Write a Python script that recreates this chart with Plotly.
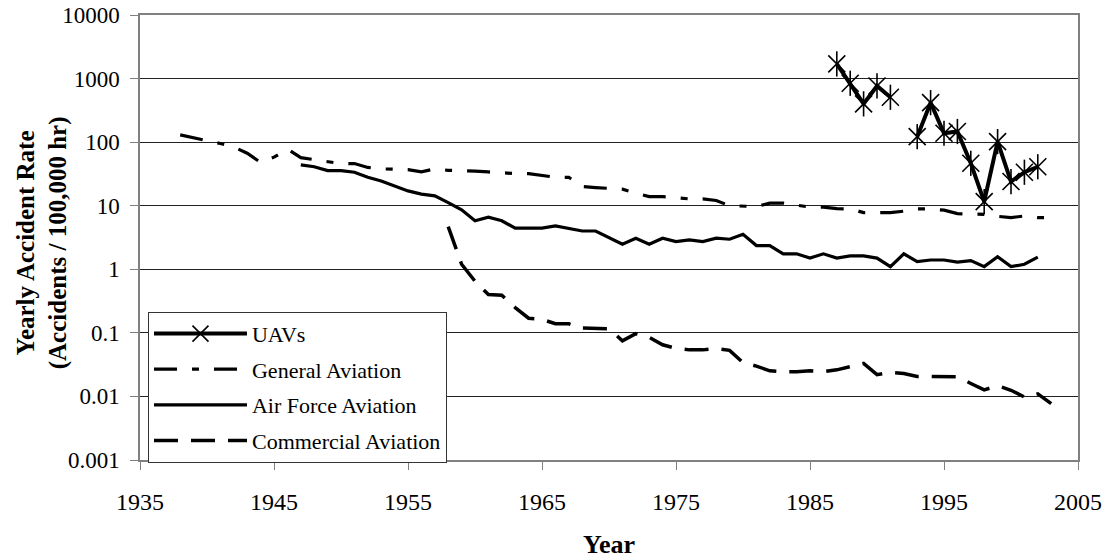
import plotly.graph_objects as go

# yearly accident rates (accidents / 100,000 hr)
uav_years = [1987, 1988, 1989, 1990, 1991, 1992, 1993, 1994, 1995, 1996, 1997, 1998, 1999, 2000, 2001, 2002]
uav_rate = [1700, 844, 400, 765, 508, None, 122, 418, 138, 147, 46.5, 11.6, 102, 24, 33.6, 41]

ga_years = list(range(1938, 2004))
ga_rate = [130, 118, 106, 95, 84, 67, 48, 58, 78, 57,
           53, 49, 46, 46, 40, 38, 38, 37, 34, 38,
           36, 36, 35, 34, 33, 32, 32, 30, 28, 28,
           20, 19.3, 18.5, 18.2, 15.8, 13.9, 13.9, 13.5, 12.8, 12.8,
           12.1, 10, 9.8, 9.7, 11, 11, 10.2, 9.5, 9.5, 9,
           8.9, 7.8, 7.8, 7.8, 8.2, 8.9, 8.9, 8.5, 7.5, 7.4,
           7.3, 6.8, 6.5, 6.9, 6.5, 6.5]

af_years = list(range(1947, 2003))
af_rate = [44, 41, 35.6, 35.6, 33.6, 28, 24.5, 20.5, 17.1, 15.2,
           14.3, 11.2, 8.6, 5.8, 6.6, 5.8, 4.43, 4.43, 4.43, 4.8,
           4.43, 4.0, 4.0, 3.2, 2.48, 3.08, 2.48, 3.08, 2.73, 2.9,
           2.73, 3.08, 2.97, 3.56, 2.36, 2.36, 1.75, 1.75, 1.5, 1.75,
           1.5, 1.63, 1.63, 1.5, 1.1, 1.75, 1.32, 1.4, 1.4, 1.3,
           1.37, 1.1, 1.58, 1.1, 1.2, 1.55]

ca_years = list(range(1958, 2004))
ca_rate = [4.7, 1.2, 0.65, 0.40, 0.39, 0.25, 0.17, 0.163, 0.139, 0.139,
           0.119, 0.116, 0.116, 0.075, 0.097, 0.085, 0.065, 0.057, 0.054, 0.054,
           0.057, 0.053, 0.034, 0.030, 0.0253, 0.0245, 0.0245, 0.0253, 0.0245, 0.0262,
           0.029, 0.033, 0.022, 0.024, 0.023, 0.0206, 0.0206, 0.0206, 0.0204, 0.016,
           0.0127, 0.0147, 0.0125, 0.0098, 0.011, 0.0077]

y_ticks = [0.001, 0.01, 0.1, 1, 10, 100, 1000, 10000]
y_ticktext = ["0.001", "0.01", "0.1", "1", "10", "100", "1000", "10000"]
x_ticks = [1935, 1945, 1955, 1965, 1975, 1985, 1995, 2005]

serif = "Liberation Serif, Times New Roman, serif"

fig = go.Figure()
fig.add_trace(go.Scatter(x=uav_years, y=uav_rate, name="UAVs", mode="lines+markers",
                         line=dict(color="black", width=4), connectgaps=False,
                         marker=dict(symbol="x-thin-open", size=17, color="black",
                                     line=dict(color="black", width=1.6)),
                         legendgroup="uav"))
# vertical stroke of the asterisk marker
fig.add_trace(go.Scatter(x=uav_years, y=uav_rate, mode="markers", showlegend=False,
                         marker=dict(symbol="line-ns-open", size=18, color="black",
                                     line=dict(color="black", width=1.6)),
                         legendgroup="uav", hoverinfo="skip"))
fig.add_trace(go.Scatter(x=ga_years, y=ga_rate, name="General Aviation", mode="lines",
                         line=dict(color="black", width=3.2, dash="23px,15px,7px,15px"),
                         legendgroup="ga"))
fig.add_trace(go.Scatter(x=af_years, y=af_rate, name="Air Force Aviation", mode="lines",
                         line=dict(color="black", width=3.2), legendgroup="af"))
fig.add_trace(go.Scatter(x=ca_years, y=ca_rate, name="Commercial Aviation", mode="lines",
                         line=dict(color="black", width=3.5, dash="24px,13px"),
                         legendgroup="ca"))

fig.update_xaxes(range=[1935, 2005], tickvals=x_ticks, ticks="outside", ticklen=8,
                 tickcolor="#808080", showline=True, linecolor="#808080", linewidth=1.5,
                 mirror=True, showgrid=False, zeroline=False, ticklabelstandoff=11,
                 automargin=False, ticklabeloverflow="allow",
                 tickfont=dict(family=serif, size=24, color="black"),
                 title=dict(text="<b>Year</b>", standoff=22,
                            font=dict(family=serif, size=26, color="black")))
fig.update_yaxes(type="log", range=[-3, 4], tickvals=y_ticks, ticktext=y_ticktext,
                 ticks="outside", ticklen=8, tickcolor="#808080", showline=True,
                 linecolor="#808080", linewidth=1.5, mirror=True, showgrid=True,
                 gridcolor="#222222", gridwidth=1, zeroline=False, ticklabelstandoff=6,
                 automargin=False, ticklabeloverflow="allow",
                 tickfont=dict(family=serif, size=23, color="black"))

fig.add_annotation(text="<b>Yearly Accident Rate<br>(Accidents / 100,000 hr)</b>",
                   xref="paper", yref="paper", x=-0.104, y=0.488, textangle=-90,
                   showarrow=False, xanchor="center", yanchor="middle",
                   font=dict(family=serif, size=25, color="black"))

fig.update_layout(
    width=1109, height=559,
    margin=dict(l=140, r=31, t=15, b=99, autoexpand=False),
    paper_bgcolor="white", plot_bgcolor="white",
    showlegend=True,
    legend=dict(x=0.0085, y=0.333, xanchor="left", yanchor="top",
                bgcolor="white", bordercolor="#333333", borderwidth=1,
                font=dict(family=serif, size=22, color="black"),
                traceorder="grouped", tracegroupgap=4, itemwidth=93),
)

# drop the default 8px page margin so the figure fills the window
fig.write_html("out.html", config={"displayModeBar": False},
               post_script="document.body.style.margin = '0';")
